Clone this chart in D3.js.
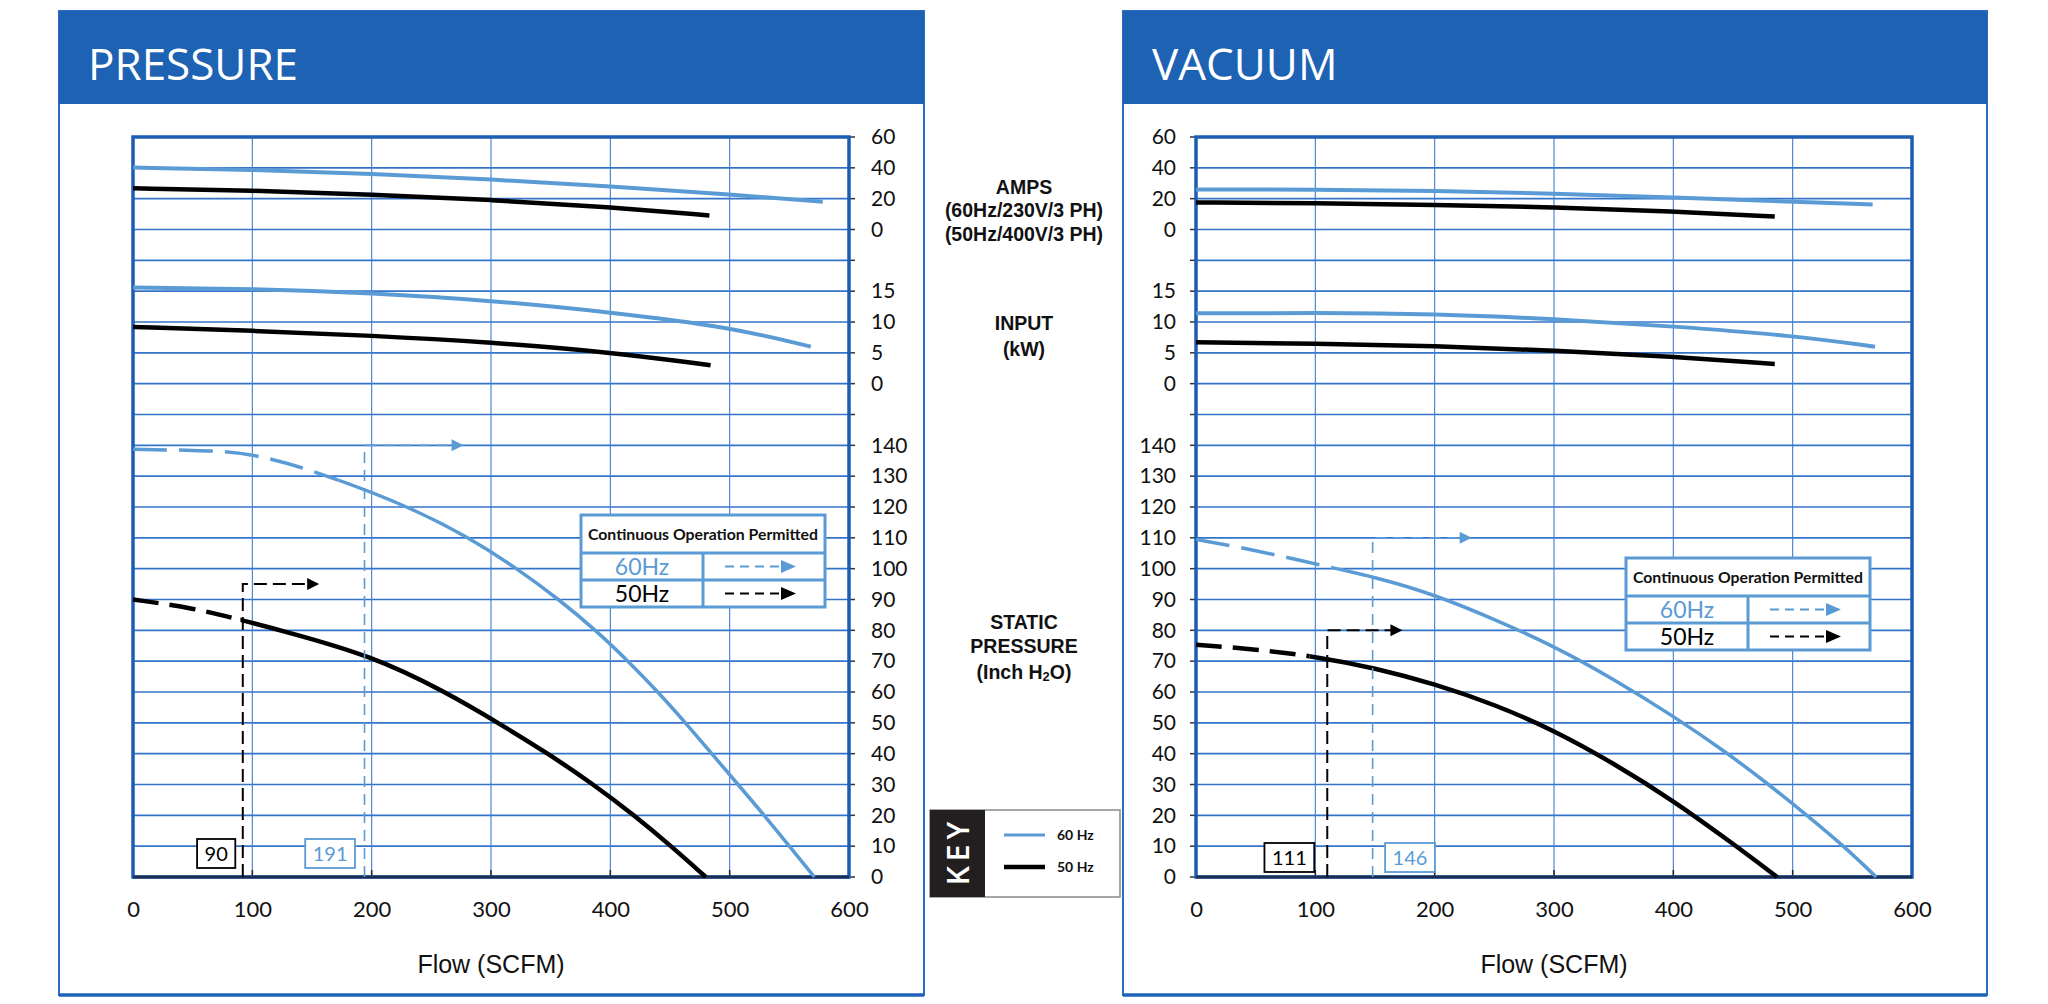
<!DOCTYPE html>
<html>
<head>
<meta charset="utf-8">
<script src="https://cdn.jsdelivr.net/npm/d3@7/dist/d3.min.js"></script>
<style>
  html, body { margin: 0; padding: 0; background: #fff; }
  svg { display: block; }
</style>
</head>
<body>
<svg id="chart" width="2048" height="1004"></svg>
<script>
// ── Data ─────────────────────────────────────────────────────────
// tick labels
const flowTicks  = [0, 100, 200, 300, 400, 500, 600];
const ampsTicks  = [0, 20, 40, 60];
const inputTicks = [0, 5, 10, 15];
const pressTicks = [0, 10, 20, 30, 40, 50, 60, 70, 80, 90, 100, 110, 120, 130, 140];

// PRESSURE panel, points are [flow SCFM, value]
const pressAmps60   = [[0,40.2],[100,38.8],[200,36.2],[300,32.5],[400,28.0],[500,22.8],[578,18.0]];
const pressAmps50   = [[0,26.7],[100,25.3],[200,22.7],[300,19.3],[400,14.5],[483,9.1]];
const pressInput60  = [[0,15.6],[100,15.4],[200,14.7],[300,13.5],[400,11.6],[500,9.2],[568,6.0]];
const pressInput50  = [[0,9.2],[100,8.6],[200,7.8],[300,6.7],[400,5.1],[484,3.0]];
const pressStatic60 = [[0,138.7],[50,138.4],[100,137.8],[165,130],[232,120],[282,110],[322,100],[357,90],
                       [388,80],[415,70],[440,60],[463,50],[485,40],[507,30],[529,20],[550,10],[571,0]];
const pressStatic50 = [[0,90],[50,87.3],[90,83.4],[124,80],[200,71.8],[262,60],[306,50],[348,40],
                       [386,30],[420,20],[451,10],[480,0]];
// continuous operation markers, index 0 = 50 Hz, 1 = 60 Hz
const pressCopText  = ["90", "191"];
const pressCopFlow  = [92, 194];
const pressCopTop   = [95, 140];
const pressCopArrow = [156, 277];
const pressDashEnd  = [90, 172];

// VACUUM panel
const vacAmps60   = [[0,26.0],[100,25.9],[200,25.1],[300,23.4],[400,20.8],[500,18.0],[567,16.2]];
const vacAmps50   = [[0,17.5],[100,17.1],[200,16.0],[300,14.5],[400,11.9],[485,8.4]];
const vacInput60  = [[0,11.4],[100,11.5],[200,11.3],[300,10.5],[400,9.3],[500,7.8],[569,6.0]];
const vacInput50  = [[0,6.7],[100,6.5],[200,6.1],[300,5.4],[400,4.4],[485,3.2]];
const vacStatic60 = [[0,109.5],[50,106],[100,101.5],[150,97.3],[200,91.6],[250,83.6],[300,74.9],
                     [350,64.2],[400,52.2],[446,40],[480,30],[512,20],[543,10],[570,0]];
const vacStatic50 = [[0,75.3],[50,73.9],[100,71.5],[150,67.8],[200,62.6],[250,56.0],[300,47.6],
                     [350,36.9],[400,24.8],[450,10.8],[487,0]];
const vacCopText  = ["111", "146"];
const vacCopFlow  = [110, 148];
const vacCopTop   = [80, 110];
const vacCopArrow = [173, 231];
const vacDashEnd  = [95, 125];

// texts
const ampsLabel   = ["AMPS", "(60Hz/230V/3 PH)", "(50Hz/400V/3 PH)"];
const inputLabel  = ["INPUT", "(kW)"];
const legendRows  = ["60Hz", "50Hz"];
const keyRows     = ["60 Hz", "50 Hz"];

// ── Layout / scales ──────────────────────────────────────────────
const BLUE = "#5b9bd5", BLACK = "#000", HEAD = "#1e62b4", GRID = "#3373c9";
const PLOT_W = 716, PLOT_H = 740, PLOT_Y = 137, ROWS = 24;
const svg = d3.select("#chart");

const rowY   = d3.scaleLinear().domain([0, ROWS]).range([0, PLOT_H]);
const xScale = d3.scaleLinear().domain([0, 600]).range([0, PLOT_W]);
const yAmps  = d3.scaleLinear().domain([0, 60]).range([rowY(3), rowY(0)]);
const yInput = d3.scaleLinear().domain([0, 15]).range([rowY(8), rowY(5)]);
const yPress = d3.scaleLinear().domain([0, 140]).range([rowY(24), rowY(10)]);

const tickFont = "Lato, 'Open Sans', sans-serif";

function drawPanel(p) {
    const root = svg.append("g");

    // frame + header
    root.append("rect").attr("x", p.boxX).attr("y", 11).attr("width", p.boxW).attr("height", 984)
        .attr("fill", "#fff").attr("stroke", "#2b6cc6").attr("stroke-width", 2);
    root.append("line").attr("x1", p.boxX).attr("x2", p.boxX + p.boxW).attr("y1", 995).attr("y2", 995)
        .attr("stroke", "#1f63b8").attr("stroke-width", 3.5);
    root.append("rect").attr("x", p.boxX).attr("y", 11).attr("width", p.boxW).attr("height", 93)
        .attr("fill", HEAD);
    root.append("text").attr("x", p.boxX + 29).attr("y", 80)
        .style("font-family", "'Open Sans', sans-serif").style("font-size", "44px")
        .style("fill", "#fff").text(p.title);

    const g = root.append("g").attr("transform", `translate(${p.plotX},${PLOT_Y})`);

    // gridlines
    g.append("g").selectAll("line").data(d3.range(0, ROWS + 1)).join("line")
        .attr("x1", 0).attr("x2", PLOT_W).attr("y1", d => rowY(d)).attr("y2", d => rowY(d))
        .attr("stroke", GRID).attr("stroke-width", 1.6);
    g.append("g").selectAll("line").data(flowTicks).join("line")
        .attr("x1", d => xScale(d)).attr("x2", d => xScale(d)).attr("y1", 0).attr("y2", PLOT_H)
        .attr("stroke", "#3d7dd2").attr("stroke-width", 1.1);

    // small ticks on value side, on every row
    const sideX = p.side === "right" ? PLOT_W : 0;
    const dir = p.side === "right" ? 1 : -1;
    g.append("g").selectAll("line").data(d3.range(0, ROWS + 1)).join("line")
        .attr("x1", sideX).attr("x2", sideX + dir * 6).attr("y1", d => rowY(d)).attr("y2", d => rowY(d))
        .attr("stroke", "#333").attr("stroke-width", 1.5);
    // inward ticks on flow axis
    g.append("g").selectAll("line").data(flowTicks).join("line")
        .attr("x1", d => xScale(d)).attr("x2", d => xScale(d)).attr("y1", PLOT_H).attr("y2", PLOT_H - 7)
        .attr("stroke", "#222").attr("stroke-width", 1.5);

    // plot border
    g.append("rect").attr("width", PLOT_W).attr("height", PLOT_H)
        .attr("fill", "none").attr("stroke", "#1d5cb3").attr("stroke-width", 3.5);
    g.append("line").attr("x1", 0).attr("x2", PLOT_W).attr("y1", PLOT_H).attr("y2", PLOT_H)
        .attr("stroke", "#1a2d52").attr("stroke-width", 3);

    // value axes
    const axisFn = p.side === "right" ? d3.axisRight : d3.axisLeft;
    [[yAmps, ampsTicks], [yInput, inputTicks], [yPress, pressTicks]].forEach(([s, t]) => {
        const a = g.append("g").attr("transform", `translate(${sideX},0)`)
            .call(axisFn(s).tickValues(t).tickSize(0).tickPadding(p.side === "right" ? 22 : 20));
        a.select(".domain").remove();
        a.selectAll("text").style("font-family", tickFont).style("font-size", "21px").style("fill", "#111");
    });

    // flow axis
    const xa = g.append("g").attr("transform", `translate(0,${PLOT_H})`)
        .call(d3.axisBottom(xScale).tickValues(flowTicks).tickSize(0).tickPadding(24));
    xa.select(".domain").remove();
    xa.selectAll("text").style("font-family", tickFont).style("font-size", "22px").style("fill", "#111");

    g.append("text").attr("x", PLOT_W / 2).attr("y", 836).attr("text-anchor", "middle")
        .style("font-family", "'Liberation Sans', Arial, sans-serif").style("font-size", "25px")
        .style("fill", "#111").text("Flow (SCFM)");

    // curves
    const line = sc => d3.line().x(d => xScale(d[0])).y(d => sc(d[1])).curve(d3.curveBasis);
    const solid = (data, sc, col, w) => g.append("path").datum(data).attr("d", line(sc))
        .attr("fill", "none").attr("stroke", col).attr("stroke-width", w);

    solid(p.amps60, yAmps, BLUE, 4);
    solid(p.amps50, yAmps, BLACK, 4.5);
    solid(p.input60, yInput, BLUE, 4);
    solid(p.input50, yInput, BLACK, 4.5);

    // static pressure: dashed before the COP point, solid after
    const defs = root.append("defs");
    [[p.static50, BLACK, 4.5, "26,11"], [p.static60, BLUE, 3.5, "34,12"]].forEach(([data, col, w, dash], i) => {
        const cut = xScale(p.dashEnd[i]);
        const idA = `${p.id}-dash-${i}`, idB = `${p.id}-solid-${i}`;
        defs.append("clipPath").attr("id", idA).append("rect")
            .attr("x", -10).attr("y", -20).attr("width", cut + 10).attr("height", PLOT_H + 40);
        defs.append("clipPath").attr("id", idB).append("rect")
            .attr("x", cut).attr("y", -20).attr("width", PLOT_W - cut + 20).attr("height", PLOT_H + 40);
        solid(data, yPress, col, w).attr("stroke-dasharray", dash).attr("clip-path", `url(#${idA})`);
        solid(data, yPress, col, w).attr("clip-path", `url(#${idB})`);
    });

    // COP brackets + value boxes
    p.copFlow.forEach((f, i) => {
        const col = i === 0 ? BLACK : BLUE;
        const cx = xScale(f), ty = yPress(p.copTop[i]), tip = xScale(p.copArrow[i]);
        const path = d3.path();
        path.moveTo(cx, PLOT_H); path.lineTo(cx, ty); path.lineTo(tip - 11, ty);
        g.append("path").attr("d", path.toString()).attr("fill", "none").attr("stroke", col)
            .attr("stroke-width", i === 0 ? 2 : 1.6).attr("stroke-dasharray", i === 0 ? "13,6" : "11,7");
        g.append("path").attr("d", `M${tip - 12},${ty - 6}L${tip},${ty}L${tip - 12},${ty + 6}Z`).attr("fill", col);

        const lab = g.append("g");
        const t = lab.append("text").attr("text-anchor", "middle")
            .style("font-family", tickFont).style("font-size", "20px").style("fill", col).text(p.copText[i]);
        const tw = t.node().getComputedTextLength() + 15;
        const bx = p.labelSide[i] === "left" ? cx - p.labelGap[i] - tw : cx + p.labelGap[i];
        const by = PLOT_H - p.labelBottom - 29;
        lab.insert("rect", "text").attr("x", bx).attr("y", by).attr("width", tw).attr("height", 29)
            .attr("fill", "#fff").attr("stroke", col).attr("stroke-width", 1.8);
        t.attr("x", bx + tw / 2).attr("y", by + 22);
    });

    // "Continuous Operation Permitted" table
    const lg = g.append("g").attr("transform", `translate(${p.legend[0]},${p.legend[1]})`);
    lg.append("rect").attr("width", 244).attr("height", 92).attr("fill", "#fff")
        .attr("stroke", BLUE).attr("stroke-width", 3);
    lg.append("line").attr("x1", 0).attr("x2", 244).attr("y1", 38).attr("y2", 38).attr("stroke", BLUE).attr("stroke-width", 3);
    lg.append("line").attr("x1", 0).attr("x2", 244).attr("y1", 65).attr("y2", 65).attr("stroke", BLUE).attr("stroke-width", 3);
    lg.append("line").attr("x1", 122).attr("x2", 122).attr("y1", 38).attr("y2", 92).attr("stroke", BLUE).attr("stroke-width", 3);
    lg.append("text").attr("x", 122).attr("y", 25).attr("text-anchor", "middle")
        .style("font-family", tickFont).style("font-weight", "700").style("font-size", "15.8px")
        .style("fill", "#111").text("Continuous Operation Permitted");
    legendRows.forEach((r, i) => {
        const col = i === 0 ? BLUE : BLACK;
        const cy = 38 + 27 * i + 13.5;
        lg.append("text").attr("x", 61).attr("y", cy + 8.5).attr("text-anchor", "middle")
            .style("font-family", tickFont).style("font-size", "23px").style("fill", col).text(r);
        lg.append("line").attr("x1", 144).attr("x2", 202).attr("y1", cy).attr("y2", cy)
            .attr("stroke", col).attr("stroke-width", 2).attr("stroke-dasharray", "9,6");
        lg.append("path").attr("d", `M200,${cy - 6.5}L215,${cy}L200,${cy + 6.5}Z`).attr("fill", col);
    });
}

drawPanel({
    id: "press", title: "PRESSURE", boxX: 59, boxW: 865, plotX: 133, side: "right",
    amps60: pressAmps60, amps50: pressAmps50, input60: pressInput60, input50: pressInput50,
    static60: pressStatic60, static50: pressStatic50, dashEnd: pressDashEnd,
    copFlow: pressCopFlow, copTop: pressCopTop, copArrow: pressCopArrow, copText: pressCopText,
    labelSide: ["left", "left"], labelGap: [7.5, 9.5], labelBottom: 9,
    legend: [448, 378]
});
drawPanel({
    id: "vac", title: "VACUUM", boxX: 1123, boxW: 864, plotX: 1196, side: "left",
    amps60: vacAmps60, amps50: vacAmps50, input60: vacInput60, input50: vacInput50,
    static60: vacStatic60, static50: vacStatic50, dashEnd: vacDashEnd,
    copFlow: vacCopFlow, copTop: vacCopTop, copArrow: vacCopArrow, copText: vacCopText,
    labelSide: ["left", "right"], labelGap: [13, 12.5], labelBottom: 5,
    legend: [430, 421]
});

// ── Centre captions ──────────────────────────────────────────────
const capFont = "'Liberation Sans', Arial, sans-serif";
const mid = svg.append("g").attr("transform", "translate(1024,0)")
    .style("font-family", capFont).style("font-weight", "700").style("font-size", "19.5px")
    .style("fill", "#111").attr("text-anchor", "middle");
ampsLabel.forEach((t, i) => mid.append("text").attr("y", [194, 217, 241][i]).text(t));
inputLabel.forEach((t, i) => mid.append("text").attr("y", [330, 356][i]).text(t));
mid.append("text").attr("y", 629).text("STATIC");
mid.append("text").attr("y", 653).text("PRESSURE");
const h2o = mid.append("text").attr("y", 679);
h2o.append("tspan").text("(Inch H");
h2o.append("tspan").style("font-size", "13px").attr("dy", 2).text("2");
h2o.append("tspan").attr("dy", -2).text("O)");

// ── KEY box ──────────────────────────────────────────────────────
const key = svg.append("g").attr("transform", "translate(930,810)");
key.append("rect").attr("width", 190).attr("height", 87).attr("fill", "#fff")
    .attr("stroke", "#8a8a8a").attr("stroke-width", 1.5);
key.append("rect").attr("width", 55).attr("height", 87).attr("fill", "#231f20");
key.append("text").attr("transform", "translate(38.5,41) rotate(-90)").attr("text-anchor", "middle")
    .style("font-family", "'Open Sans', sans-serif").style("font-size", "30px").style("font-weight", "600")
    .style("letter-spacing", "5px").style("fill", "#fff").text("KEY");
keyRows.forEach((t, i) => {
    const cy = 25 + i * 32;
    key.append("line").attr("x1", 74).attr("x2", 115).attr("y1", cy).attr("y2", cy)
        .attr("stroke", i === 0 ? BLUE : BLACK).attr("stroke-width", i === 0 ? 3 : 4.5);
    key.append("text").attr("x", 127).attr("y", cy + 5)
        .style("font-family", tickFont).style("font-weight", "700").style("font-size", "14px")
        .style("fill", "#111").text(t);
});
</script>
</body>
</html>
